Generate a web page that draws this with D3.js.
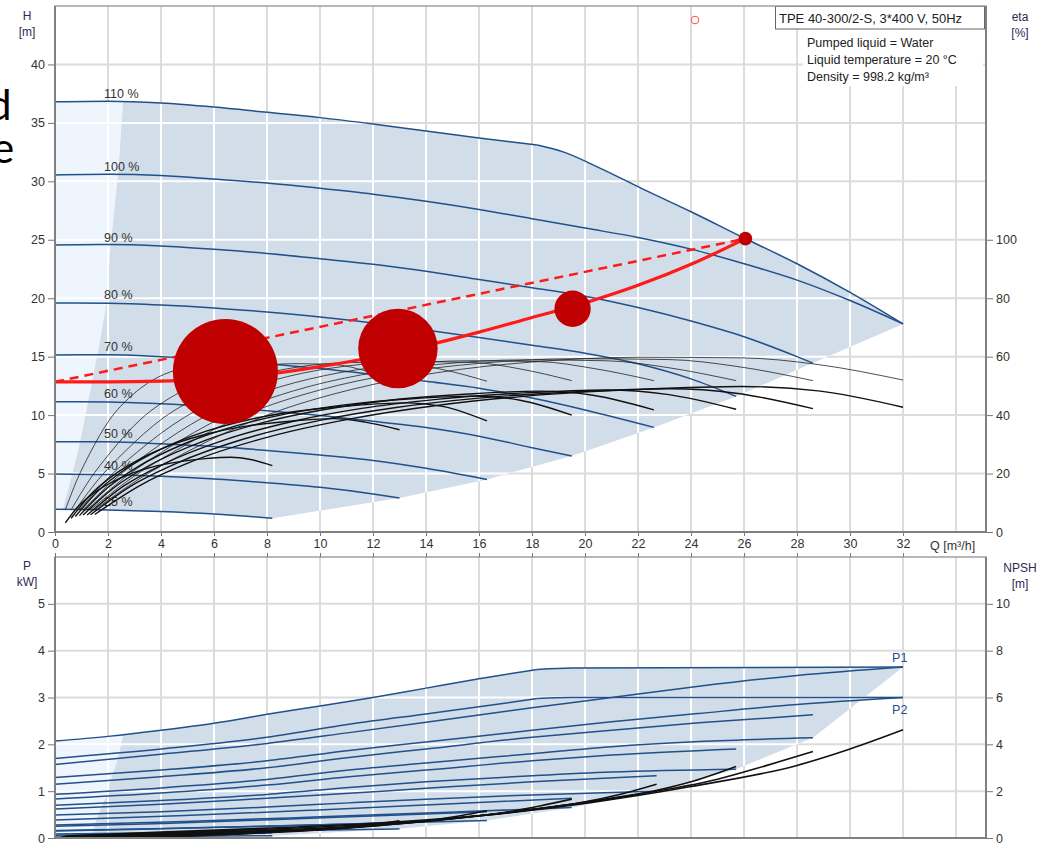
<!DOCTYPE html>
<html><head><meta charset="utf-8">
<script src="https://cdn.jsdelivr.net/npm/d3@7"></script>
<style>
html,body{margin:0;padding:0;background:#fff;}
svg{display:block;font-family:"Liberation Sans",Arial,sans-serif;}
</style></head><body>
<svg id="chart" width="1046" height="845"></svg>
<script>
// ---------- tick labels ----------
const qTicks = [0,2,4,6,8,10,12,14,16,18,20,22,24,26,28,30,32];
const qGrid = [2,4,6,8,10,12,14,16,18,20,22,24,26,28,30,32,34];
const hTicks = [0,5,10,15,20,25,30,35,40];
const etaTicks = [0,20,40,60,80,100];
const pTicks = [0,1,2,3,4,5];
const npshTicks = [0,2,4,6,8,10];

// ---------- head curves H(Q) per speed ----------
const speedLabels = ["110 %","100 %","90 %","80 %","70 %","60 %","50 %","40 %","25 %"];
const h110 = [[0,36.8],[2,36.85],[4,36.7],[6,36.35],[8,35.9],[10,35.45],[12,34.9],[14,34.3],[16,33.7],[18.2,33.1]];
const hMax = [[18.2,33.1],[19.2,32.5],[20.5,31.2],[22.45,29.05],[24,27.4],[26,25.15],[28,22.95],[30,20.5],[32,17.8]];
const h100 = [[0,30.55],[2,30.6],[4,30.5],[6,30.2],[8,29.85],[10,29.4],[12,28.9],[14,28.3],[16,27.6],[18,26.8],[20,26.0],[22,25.2],[24,24.2],[26,22.95],[28,21.55],[30,19.8],[32,17.8]];
const h90 = [[0,24.55],[2,24.59],[4,24.47],[6,24.19],[8,23.83],[10,23.38],[12,22.9],[14,22.3],[16,21.6],[18,20.9],[20,20.17],[22,19.2],[24,18.05],[26,16.7],[28,15.0],[28.6,14.45]];
const h80 = [[0,19.6],[2,19.57],[4,19.42],[6,19.17],[8,18.82],[10,18.4],[12,17.89],[14,17.28],[16,16.64],[18,15.97],[20,15.3],[22,14.4],[24,13.1],[25.7,11.6]];
const h70 = [[0,15.15],[2,15.16],[4,15.0],[6,14.74],[8,14.4],[10,13.98],[12,13.46],[14,12.89],[16,12.3],[18,11.46],[20,10.44],[22.6,8.95]];
const h60 = [[0,11.15],[2,11.13],[4,10.97],[6,10.71],[8,10.38],[10,9.97],[12,9.47],[14,8.94],[16,8.2],[18,7.21],[19.5,6.5]];
const h50 = [[0,7.73],[2,7.72],[4,7.55],[6,7.31],[8,6.98],[10,6.58],[12,6.12],[14,5.45],[16.3,4.5]];
const h40 = [[0,4.97],[2,4.91],[4,4.76],[6,4.53],[8,4.21],[10,3.82],[12,3.25],[13,2.9]];
const h25 = [[0,1.94],[2,1.89],[4,1.75],[6,1.53],[8.2,1.18]];
// minimum-flow edge of the operating range
const hEdge = [[2.57,36.8],[2.38,30.6],[2.1,24.6],[1.95,19.6],[1.6,15.15],[1.25,11.15],[0.95,7.73],[0.65,4.97],[0.3,1.94]];

// ---------- pump efficiency (thin) per speed, eta [%] ----------
const ep100 = [[1.5,7.6],[3.2,18.3],[5.1,28],[8,40],[11.2,48.8],[14.4,54.5],[17.9,58.1],[22.1,59.8],[25.9,59.6],[28.8,57.3],[32,52]];
const ep90 = [[1.34,7.6],[2.86,18.3],[4.58,28],[7.15,40],[10,48.6],[12.87,54.2],[16,57.7],[19.7,59.3],[23.2,59],[25.7,56.7],[28.6,51.8]];
const ep80 = [[1.21,7.6],[2.57,18.2],[4.11,27.8],[6.43,39.7],[9,48.3],[11.57,53.8],[14.4,57.3],[17.7,58.9],[20.8,58.6],[23.1,56.3],[25.7,51.8]];
const ep70 = [[1.06,7.6],[2.26,18.1],[3.62,27.7],[5.65,39.5],[7.91,48],[10.17,53.5],[12.66,57],[15.6,58.6],[18.3,58.3],[20.3,56],[22.6,51.8]];
const ep60 = [[0.92,7.6],[1.95,18],[3.12,27.5],[4.88,39.2],[6.83,47.7],[8.78,53.2],[10.92,56.7],[13.46,58.3],[15.8,58],[17.55,55.8],[19.5,51.8]];
const ep50 = [[0.77,7.6],[1.63,17.9],[2.61,27.3],[4.08,39],[5.71,47.4],[7.34,52.9],[9.13,56.4],[11.25,58],[13.2,57.7],[14.67,55.5],[16.3,51.6]];
const ep40 = [[0.61,7.6],[1.3,17.8],[2.08,27.1],[3.25,38.7],[4.55,47],[5.85,52.5],[7.28,56],[8.97,57.6],[10.53,57.3],[11.7,55.2],[13,51.5]];
const ep25 = [[0.39,7.6],[0.82,17.6],[1.31,26.8],[2.05,38.3],[2.87,46.5],[3.69,52],[4.59,55.5],[5.66,57.2],[6.64,57],[7.38,54.8],[8.2,51.3]];

// ---------- total efficiency (thick) per speed, eta [%] ----------
const et100 = [[1.5,6],[3.2,15.9],[5.1,23.9],[8,32.4],[11.2,38.8],[14.4,43.3],[17.9,46.6],[22.1,48.8],[25.9,49.8],[28.8,48.3],[32,42.7]];
const et90 = [[1.34,5.9],[2.86,15.7],[4.58,23.5],[7.15,31.9],[10,38.2],[12.87,42.6],[16,45.8],[19.7,48],[23.2,49],[25.7,47.5],[28.6,42.2]];
const et80 = [[1.21,5.8],[2.57,15.6],[4.11,23.3],[6.43,31.6],[9,37.9],[11.57,42.3],[14.4,45.4],[17.7,47.6],[20.8,48.6],[23.1,47.1],[25.7,42]];
const et70 = [[1.06,5.8],[2.26,15.4],[3.62,23.1],[5.65,31.3],[7.91,37.6],[10.17,41.9],[12.66,45.1],[15.6,47.2],[18.3,48.2],[20.3,46.8],[22.6,41.8]];
const et60 = [[0.92,5.6],[1.95,14.9],[3.12,22.3],[4.88,30.2],[6.83,36.3],[8.78,40.5],[10.92,43.5],[13.46,45.6],[15.8,46.5],[17.55,45.1],[19.5,40]];
const et50 = [[0.77,5.3],[1.63,14.1],[2.61,21.2],[4.08,28.7],[5.71,34.5],[7.34,38.5],[9.13,41.3],[11.25,43.3],[13.2,44.2],[14.67,42.9],[16.3,38]];
const et40 = [[0.61,4.7],[1.3,12.4],[2.08,18.6],[3.25,25.2],[4.55,30.3],[5.85,33.8],[7.28,36.3],[8.97,38],[10.53,38.8],[11.7,37.6],[13,35]];
const et25 = [[0.39,3.1],[0.82,8.2],[1.31,12.3],[2.05,16.6],[2.87,20],[3.69,22.3],[4.59,23.9],[5.66,25.1],[6.64,25.6],[7.38,24.8],[8.2,22.7]];

// ---------- control curve and duty points ----------
const controlCurve = [[0,12.85],[2,12.85],[4,12.9],[6,13.1],[8,13.5],[10,14.15],[12,14.95],[14,15.95],[16,17.1],[18,18.35],[20,19.6],[22,21.1],[24,22.9],[26.05,25.1]];
const controlLine = [[0,12.85],[26.05,25.1]];
const dutyQ = [6.43,12.94,19.53,26.05];
const dutyH = [13.74,15.7,19.1,25.1];
const dutyShare = [58.5,33.5,7,1];   // share of operating time [%]
const markerPoint = [24.15,43.8];

// ---------- power curves P1 / P2 [kW] per speed ----------
const p1_110 = [[0,2.07],[2,2.17],[4,2.3],[6,2.45],[8,2.64],[10,2.82],[12,3.0],[14,3.2],[16,3.4],[18.2,3.6]];
const p1Max = [[18.2,3.6],[19.5,3.63],[32,3.65]];
const p2_110 = [[0,1.7],[4,1.9],[8,2.15],[11.1,2.43],[14,2.65],[16,2.8],[18.2,2.98]];
const p2Max = [[18.2,2.98],[19.5,3.0],[32,3.0]];
const p1_100 = [[0,1.57],[4,1.79],[8,2.02],[11.1,2.25],[14,2.47],[18,2.78],[21,3.0],[24.3,3.24],[28,3.47],[32,3.65]];
const p2_100 = [[0,1.29],[4,1.45],[8,1.65],[11.1,1.87],[14,2.05],[18,2.3],[21,2.48],[24.3,2.66],[28,2.85],[32,3.0]];
const p1_90 = [[0,1.15],[4,1.31],[8,1.5],[11.1,1.72],[14,1.9],[18,2.15],[21,2.3],[24.3,2.46],[28.6,2.63]];
const p2_90 = [[0,0.935],[4,1.07],[8,1.25],[11.1,1.45],[14,1.6],[18,1.8],[21,1.95],[24.3,2.06],[28.6,2.14]];
const p1_80 = [[0,0.835],[4,0.96],[8,1.13],[11.1,1.31],[14,1.45],[18,1.65],[21,1.77],[25.7,1.9]];
const p2_80 = [[0,0.7],[4,0.8],[8,0.93],[11.1,1.08],[14,1.2],[18,1.33],[21,1.41],[25.7,1.47]];
const p1_70 = [[0,0.62],[4,0.72],[8,0.85],[11.1,0.955],[14,1.06],[18,1.2],[22.7,1.33]];
const p2_70 = [[0,0.49],[4,0.56],[8,0.66],[11.1,0.75],[14,0.83],[18,0.92],[22.7,1.0]];
const p1_60 = [[0,0.385],[4.9,0.48],[9.75,0.595],[14.6,0.72],[19.5,0.85]];
const p2_60 = [[0,0.28],[4.9,0.354],[9.75,0.447],[14.6,0.546],[19.5,0.65]];
const p1_50 = [[0,0.25],[4.1,0.312],[8.15,0.39],[12.2,0.474],[16.3,0.56]];
const p2_50 = [[0,0.16],[4.1,0.203],[8.15,0.257],[12.2,0.315],[16.3,0.375]];
const p1_40 = [[0,0.15],[3.25,0.186],[6.5,0.231],[9.75,0.28],[13,0.33]];
const p2_40 = [[0,0.085],[3.25,0.107],[6.5,0.135],[9.75,0.164],[13,0.195]];
const p1_25 = [[0,0.06],[2.05,0.072],[4.1,0.087],[6.15,0.103],[8.2,0.12]];
const p2_25 = [[0,0.02],[2.05,0.026],[4.1,0.034],[6.15,0.042],[8.2,0.05]];
const pEdge = [[2.57,2.2],[2.38,1.7],[2.1,1.24],[1.95,0.9],[1.75,0.66],[1.5,0.3],[1.4,0.03]];

// ---------- NPSH [m] per speed ----------
const n100 = [[0.4,0.08],[4,0.25],[8,0.42],[12,0.63],[16,0.95],[20,1.48],[24,2.2],[28,3.1],[30,3.8],[32,4.62]];
const n90 = [[0.36,0.065],[3.58,0.2],[7.15,0.34],[10.7,0.51],[14.3,0.77],[17.9,1.2],[21.45,1.78],[25,2.51],[26.8,3.08],[28.6,3.69]];
const n80 = [[0.32,0.05],[3.21,0.16],[6.43,0.27],[9.64,0.4],[12.85,0.61],[16.06,0.95],[19.3,1.41],[22.5,1.98],[24.1,2.43],[25.7,3.05]];
const n70 = [[0.28,0.04],[2.84,0.12],[5.68,0.21],[8.5,0.31],[11.35,0.47],[14.2,0.73],[17,1.08],[19.9,1.52],[21.3,1.86],[22.7,2.3]];
const n60 = [[0.24,0.03],[2.44,0.09],[4.88,0.15],[7.3,0.23],[9.75,0.34],[12.2,0.53],[14.6,0.79],[17.1,1.12],[18.3,1.37],[19.5,1.66]];
const n50 = [[0.2,0.02],[2.04,0.06],[4.08,0.11],[6.1,0.16],[8.15,0.24],[10.2,0.37],[12.2,0.55],[14.3,0.78],[15.3,0.95],[16.3,1.16]];
const n40 = [[0.16,0.01],[1.63,0.04],[3.25,0.07],[4.88,0.1],[6.5,0.15],[8.13,0.24],[9.75,0.35],[11.4,0.5],[12.2,0.61],[13,0.74]];
const n25 = [[0.1,0.005],[1.03,0.016],[2.05,0.026],[3.08,0.04],[4.1,0.06],[5.13,0.09],[6.15,0.14],[7.18,0.19],[7.69,0.24],[8.2,0.29]];

// ---------- layout ----------
const svg = d3.select("#chart");
const L = 55, R = 986, T1 = 6, B1 = 532, T2 = 557, B2 = 838;
const BLUE = "#21508a", DARK = "#d1dde9", LIGHT = "#eef5fc", TXT = "#333";

const x = d3.scaleLinear().domain([0, 35.13]).range([L, R]);
const yH = d3.scaleLinear().domain([0, 45]).range([B1, T1]);
const yEta = d3.scaleLinear().domain([0, 180]).range([B1, T1]);
const yP = d3.scaleLinear().domain([0, 6]).range([B2, T2]);
const yN = d3.scaleLinear().domain([0, 12]).range([B2, T2]);

const defs = svg.append("defs");
defs.append("clipPath").attr("id","clipTop").append("rect").attr("x",L).attr("y",T1).attr("width",R-L).attr("height",B1-T1);
defs.append("clipPath").attr("id","clipBot").append("rect").attr("x",L).attr("y",T2).attr("width",R-L).attr("height",B2-T2);

const lineFn = ys => d3.line().x(d => x(d[0])).y(d => ys(d[1])).curve(d3.curveMonotoneX);
const polyFn = ys => d3.line().x(d => x(d[0])).y(d => ys(d[1]));

// background text at left border
svg.append("text").attr("x",-12).attr("y",120).attr("font-family","Lato, 'Open Sans', sans-serif").attr("font-size",42).attr("fill","#000").text("d");
svg.append("text").attr("x",-8).attr("y",163).attr("font-family","Lato, 'Open Sans', sans-serif").attr("font-size",42).attr("fill","#000").text("e");

function grid(g, ys, hVals, y0, y1, color, width) {
  g.selectAll(null).data(qGrid).join("line")
    .attr("x1", d => x(d)).attr("x2", d => x(d)).attr("y1", y0).attr("y2", y1)
    .attr("stroke", color).attr("stroke-width", width);
  g.selectAll(null).data(hVals).join("line")
    .attr("x1", L).attr("x2", R).attr("y1", d => ys(d)).attr("y2", d => ys(d))
    .attr("stroke", color).attr("stroke-width", width);
}

// ================= upper panel: head / efficiency =================
const upper = svg.append("g").attr("clip-path","url(#clipTop)");
const hGrid = [5,10,15,20,25,30,35,40];
grid(upper.append("g"), yH, hGrid, T1, B1, "#dcdcdc", 2);

// operating range areas
const lightTop = [[0,36.8],[2,36.85]].concat(hEdge).concat([[0,1.94]]);
const darkTop = [hEdge[0]]
  .concat(h110.filter(d => d[0] > hEdge[0][0]))
  .concat(hMax.slice(1))
  .concat([h90, h80, h70, h60, h50, h40, h25].map(c => c[c.length-1]))
  .concat(h25.slice(0, -1).reverse().filter(d => d[0] > 0.3))
  .concat(hEdge.slice().reverse());
upper.append("path").attr("d", polyFn(yH)(lightTop) + "Z").attr("fill", LIGHT);
upper.append("path").attr("d", polyFn(yH)(darkTop) + "Z").attr("fill", DARK);
const cpTop = defs.append("clipPath").attr("id","areaTop");
cpTop.append("path").attr("d", polyFn(yH)(lightTop) + "Z");
cpTop.append("path").attr("d", polyFn(yH)(darkTop) + "Z");
grid(upper.append("g").attr("clip-path","url(#areaTop)"), yH, hGrid, T1, B1, "#ffffff", 2);

// speed curves
const headCurves = [h110, h100, h90, h80, h70, h60, h50, h40, h25];
upper.selectAll(".hc").data(headCurves.concat([hMax])).join("path")
  .attr("d", d => lineFn(yH)(d)).attr("fill","none").attr("stroke",BLUE).attr("stroke-width",1.5);
upper.selectAll(".sl").data(headCurves).join("text")
  .attr("x", x(1.85)).attr("y", d => yH(d[0][1]) - 3.5)
  .attr("font-size", 12.5).attr("fill", TXT)
  .text((d,i) => speedLabels[i]);

// efficiency curves
const pumpEta = [ep100, ep90, ep80, ep70, ep60, ep50, ep40, ep25];
const totalEta = [et100, et90, et80, et70, et60, et50, et40, et25];
upper.selectAll(".ep").data(pumpEta).join("path")
  .attr("d", d => lineFn(yEta)(d)).attr("fill","none").attr("stroke","#222").attr("stroke-width",0.8);
upper.selectAll(".et").data(totalEta).join("path")
  .attr("d", d => lineFn(yEta)(d)).attr("fill","none").attr("stroke","#111").attr("stroke-width",1.4);

// control curve
upper.append("path").attr("d", polyFn(yH)(controlLine)).attr("fill","none")
  .attr("stroke","#ff1a1a").attr("stroke-width",2.5).attr("stroke-dasharray","9,6");
upper.append("path").attr("d", lineFn(yH)(controlCurve)).attr("fill","none")
  .attr("stroke","#ff1a1a").attr("stroke-width",3.2);

// duty points sized by operating time
const rScale = d3.scaleSqrt().domain([0, 58.5]).range([0, 52.5]);
upper.selectAll(".duty").data(dutyQ).join("circle")
  .attr("cx", d => x(d)).attr("cy", (d,i) => yH(dutyH[i]))
  .attr("r", (d,i) => rScale(dutyShare[i])).attr("fill","#c00000");
upper.append("circle").attr("cx", x(markerPoint[0])).attr("cy", yH(markerPoint[1])).attr("r",3.8)
  .attr("fill","none").attr("stroke","#ff5050").attr("stroke-width",1);

// info boxes
svg.append("rect").attr("x",803).attr("y",30).attr("width",180).attr("height",56).attr("fill","#fff");
const info = ["Pumped liquid = Water","Liquid temperature = 20 °C","Density = 998.2 kg/m³"];
svg.selectAll(".info").data(info).join("text")
  .attr("x",807).attr("y",(d,i) => 47 + i*16.8).attr("font-size",12.5).attr("fill","#222").text(d => d);
svg.append("rect").attr("x",775.5).attr("y",6.5).attr("width",209).attr("height",22.5)
  .attr("fill","#fff").attr("stroke","#666").attr("stroke-width",1);
svg.append("text").attr("x",779).attr("y",22.5).attr("font-size",13).attr("fill","#222").text("TPE 40-300/2-S, 3*400 V, 50Hz");

// frame and axes (upper)
svg.append("rect").attr("x",L).attr("y",T1).attr("width",R-L).attr("height",B1-T1)
  .attr("fill","none").attr("stroke","#a0a0a0").attr("stroke-width",1.5);
function styleAxis(g) {
  g.select(".domain").remove();
  g.selectAll(".tick line").attr("stroke","#777").attr("stroke-width",1);
  g.selectAll(".tick text").attr("fill",TXT).attr("font-size",12.5).attr("font-family","Liberation Sans, Arial, sans-serif");
}
const fmt = d3.format("d");
svg.append("g").attr("transform",`translate(${L},0)`).call(d3.axisLeft(yH).tickValues(hTicks).tickFormat(fmt).tickSize(7).tickPadding(3)).call(styleAxis);
svg.append("g").attr("transform",`translate(${R},0)`).call(d3.axisRight(yEta).tickValues(etaTicks).tickFormat(fmt).tickSize(7).tickPadding(3)).call(styleAxis);
svg.append("g").attr("transform",`translate(0,${B1})`).call(d3.axisBottom(x).tickValues(qTicks).tickFormat(fmt).tickSize(4).tickPadding(3)).call(styleAxis);
svg.append("line").attr("x1",L).attr("x2",L).attr("y1",T1).attr("y2",B1).attr("stroke","#808080").attr("stroke-width",2);
svg.append("line").attr("x1",R).attr("x2",R).attr("y1",T1).attr("y2",B1).attr("stroke","#808080").attr("stroke-width",2);
svg.append("line").attr("x1",L).attr("x2",R).attr("y1",B1).attr("y2",B1).attr("stroke","#808080").attr("stroke-width",2);

function axisTitle(lines, cx, y0) {
  svg.selectAll(null).data(lines).join("text")
    .attr("x",cx).attr("y",(d,i) => y0 + i*16).attr("text-anchor","middle")
    .attr("font-size",12).attr("fill","#2e2a55").text(d => d);
}
axisTitle(["H","[m]"], 27, 20);
axisTitle(["eta","[%]"], 1020, 21);
svg.append("text").attr("x",930).attr("y",550).attr("font-size",12.5).attr("fill",TXT).text("Q [m³/h]");

// ================= lower panel: power / NPSH =================
const lower = svg.append("g").attr("clip-path","url(#clipBot)");
const pGrid = [1,2,3,4,5];
grid(lower.append("g"), yP, pGrid, T2, B2, "#dcdcdc", 2);

const p2Ends = [p2_90, p2_80, p2_70, p2_60, p2_50, p2_40, p2_25].map(c => c[c.length-1]);
const lightBot = [[0,2.07],[2,2.17]].concat(pEdge).concat([[0,0]]);
const darkBot = [pEdge[0]]
  .concat(p1_110.filter(d => d[0] > pEdge[0][0]))
  .concat(p1Max.slice(1))
  .concat(p2Ends)
  .concat(pEdge.slice().reverse());
lower.append("path").attr("d", polyFn(yP)(lightBot) + "Z").attr("fill", LIGHT);
lower.append("path").attr("d", polyFn(yP)(darkBot) + "Z").attr("fill", DARK);
const cpBot = defs.append("clipPath").attr("id","areaBot");
cpBot.append("path").attr("d", polyFn(yP)(lightBot) + "Z");
cpBot.append("path").attr("d", polyFn(yP)(darkBot) + "Z");
grid(lower.append("g").attr("clip-path","url(#areaBot)"), yP, pGrid, T2, B2, "#ffffff", 2);

const powerCurves = [p1_110, p1Max, p2_110, p2Max, p1_100, p2_100, p1_90, p2_90, p1_80, p2_80,
  p1_70, p2_70, p1_60, p2_60, p1_50, p2_50, p1_40, p2_40, p1_25, p2_25];
lower.selectAll(".pc").data(powerCurves).join("path")
  .attr("d", d => lineFn(yP)(d)).attr("fill","none").attr("stroke",BLUE).attr("stroke-width",1.5);

const npshCurves = [n100, n90, n80, n70, n60, n50, n40, n25];
lower.selectAll(".nc").data(npshCurves).join("path")
  .attr("d", d => lineFn(yN)(d)).attr("fill","none").attr("stroke","#111").attr("stroke-width",1.6);

// P1 / P2 labels at the end of the full-speed curves
const p1End = p1_100[p1_100.length-1], p2End = p2_100[p2_100.length-1];
svg.append("text").attr("x", x(p1End[0]) - 11).attr("y", yP(p1End[1]) - 5).attr("font-size",12.5).attr("fill",BLUE).text("P1");
svg.append("text").attr("x", x(p2End[0]) - 11).attr("y", yP(p2End[1]) + 16).attr("font-size",12.5).attr("fill",BLUE).text("P2");

svg.append("rect").attr("x",L).attr("y",T2).attr("width",R-L).attr("height",B2-T2)
  .attr("fill","none").attr("stroke","#a0a0a0").attr("stroke-width",1.5);
svg.append("g").attr("transform",`translate(${L},0)`).call(d3.axisLeft(yP).tickValues(pTicks).tickFormat(fmt).tickSize(7).tickPadding(3)).call(styleAxis);
svg.append("g").attr("transform",`translate(${R},0)`).call(d3.axisRight(yN).tickValues(npshTicks).tickFormat(fmt).tickSize(7).tickPadding(3)).call(styleAxis);
svg.append("g").attr("transform",`translate(0,${T2})`).call(d3.axisTop(x).tickValues(qTicks).tickSize(4).tickFormat("")).call(styleAxis);
svg.append("line").attr("x1",L).attr("x2",L).attr("y1",T2).attr("y2",B2).attr("stroke","#808080").attr("stroke-width",2);
svg.append("line").attr("x1",R).attr("x2",R).attr("y1",T2).attr("y2",B2).attr("stroke","#808080").attr("stroke-width",2);
svg.append("line").attr("x1",L).attr("x2",R).attr("y1",B2).attr("y2",B2).attr("stroke","#808080").attr("stroke-width",2);
axisTitle(["P","kW]"], 27, 570);
axisTitle(["NPSH","[m]"], 1020, 572);
</script>
</body></html>
